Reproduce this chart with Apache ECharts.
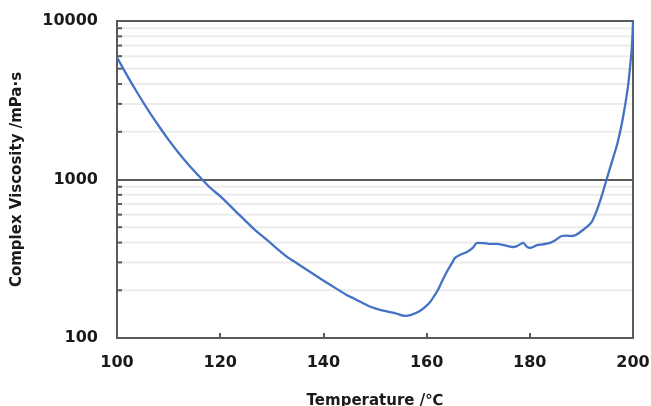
<!DOCTYPE html>
<html>
<head>
<meta charset="utf-8">
<script src="https://cdn.jsdelivr.net/npm/echarts@6/dist/echarts.min.js"></script>
<style>
  html, body { margin: 0; padding: 0; background: #fff; }
  #chart { width: 651px; height: 406px; }
</style>
</head>
<body>
<div id="chart"></div>
<script>
  // 温度 (℃)
  const temps = [100, 102, 104, 106, 108, 110, 112, 114, 116, 118, 120, 123, 126.4, 129, 132.9, 135, 139.3, 141, 144.5,
    146, 149, 150, 152.3, 154, 155.8, 157, 158.7, 160, 160.7, 161.5, 162.2, 163, 163.9, 165, 165.5, 166.5,
    167.8, 169, 169.8, 171, 172, 173.6, 175, 176.6, 177.5, 178.7, 179.4, 180, 181.4, 182.5, 183.9, 185,
    186.2, 187, 188.2, 189, 190.3, 191, 192, 193, 194, 195, 196, 197, 198, 199, 199.5, 199.8, 200]
  // 复数粘度 (mPa·s)
  const viscosity = [5900, 4510, 3500, 2750, 2200, 1780, 1465, 1225, 1040, 890, 785, 630, 492, 417, 326, 294, 238, 220, 187,
    177, 158, 154, 147, 143, 138, 140, 148, 160, 169, 185, 201, 228, 261, 300, 320, 335,
    349, 372, 398, 397, 393, 392, 385, 375, 380, 398, 378, 370, 385, 390, 398, 415,
    440, 442, 440, 448, 480, 500, 540, 640, 800, 1030, 1320, 1700, 2400, 3800, 5400, 7000, 9900]
  const xTicks = [100, 120, 140, 160, 180, 200]
  const minorVals = [200, 300, 400, 500, 600, 700, 800, 900, 2000, 3000, 4000, 5000, 6000, 7000, 8000, 9000]

  const textColor = '#1a1a1a'
  const frameColor = '#5a5a5a'
  const font = 'DejaVu Sans'

  const chart = echarts.init(document.getElementById('chart'))
  chart.setOption({
    animation: false,
    grid: {
      left: 117, top: 21, right: 18, bottom: 68,
      outerBoundsMode: 'none',
      containLabel: false,
      show: true, borderColor: frameColor, borderWidth: 2
    },
    xAxis: {
      type: 'value',
      min: 100, max: 200, interval: 20,
      name: 'Temperature /℃',
      nameLocation: 'middle',
      nameGap: 56,
      nameTextStyle: { fontFamily: font, fontWeight: 'bold', fontSize: 15, color: textColor },
      axisLine: { show: false },
      axisTick: { show: true, inside: true, length: 5, lineStyle: { color: frameColor, width: 2 } },
      splitLine: { show: false },
      axisLabel: {
        margin: 17, fontFamily: font, fontWeight: 'bold', fontSize: 16, color: textColor,
        formatter: v => (xTicks.indexOf(v) >= 0 ? String(v) : '')
      }
    },
    yAxis: {
      type: 'log',
      logBase: 10,
      min: 100, max: 10000,
      name: 'Complex Viscosity /mPa·s',
      nameLocation: 'middle',
      nameRotate: 90,
      nameGap: 92,
      nameTextStyle: { fontFamily: font, fontWeight: 'bold', fontSize: 15, color: textColor },
      axisLine: { show: false },
      axisTick: { show: false },
      splitLine: { show: true, lineStyle: { color: frameColor, width: 2 } },
      axisLabel: {
        margin: 19, fontFamily: font, fontWeight: 'bold', fontSize: 16, color: textColor,
        formatter: v => String(Math.round(v))
      }
    },
    series: [
      {
        // 次要网格线与左侧刻度
        type: 'custom',
        silent: true,
        z: 1,
        clip: false,
        data: minorVals.map(v => [100, v]),
        renderItem: (params, api) => {
          const p = api.coord([api.value(0), api.value(1)])
          const cs = params.coordSys
          return {
            type: 'group',
            children: [
              {
                type: 'line',
                shape: { x1: cs.x + 2, y1: p[1], x2: cs.x + cs.width - 1, y2: p[1] },
                style: { stroke: '#ececec', lineWidth: 2 }
              },
              {
                type: 'line',
                shape: { x1: cs.x, y1: p[1], x2: cs.x + 5, y2: p[1] },
                style: { stroke: frameColor, lineWidth: 2 }
              }
            ]
          }
        }
      },
      {
        type: 'line',
        z: 3,
        data: temps.map((t, i) => [t, viscosity[i]]),
        showSymbol: false,
        smooth: 0.3,
        lineStyle: { color: '#4472c4', width: 2.3 }
      }
    ]
  })
</script>
</body>
</html>
